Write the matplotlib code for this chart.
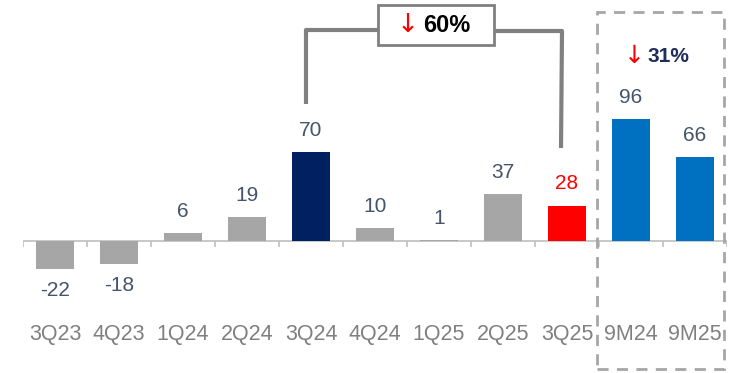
import matplotlib
matplotlib.use("Agg")
import matplotlib.pyplot as plt
from matplotlib.patches import Rectangle

plt.rcParams['font.family'] = ['Liberation Sans', 'DejaVu Sans']

# --- dados ---
categorias = ["3Q23", "4Q23", "1Q24", "2Q24", "3Q24", "4Q24", "1Q25", "2Q25", "3Q25", "9M24", "9M25"]
valores = [-22, -18, 6, 19, 70, 10, 1, 37, 28, 96, 66]
cores = ["#a6a6a6", "#a6a6a6", "#a6a6a6", "#a6a6a6", "#002060", "#a6a6a6",
         "#a6a6a6", "#a6a6a6", "#ff0000", "#0070c0", "#0070c0"]
cor_rotulo = ["#44546a"] * 8 + ["#ff0000", "#44546a", "#44546a"]
queda_trimestre = "60%"
queda_9m = "31%"

W, H = 732, 373
fig = plt.figure(figsize=(W / 100, H / 100), dpi=100)
ax = fig.add_axes([23 / W, 0, 704 / W, 1])
ax.set_xlim(-0.5, len(categorias) - 0.5)
ax.set_ylim(-104, 190)
ax.axis("off")

x = range(len(categorias))
ax.bar(x, valores, width=0.6, color=cores, zorder=2)

# eixo horizontal com marcas entre categorias
ax.axhline(0, color="#bfbfbf", lw=1.2, zorder=1)
limites = [i - 0.5 for i in range(len(categorias) + 1)]
ax.vlines(limites, -4.5, 0, color="#bfbfbf", lw=1.2, zorder=1)

for i, v in enumerate(valores):
    if v >= 0:
        ax.text(i, v + 17, str(v), ha="center", va="center", fontsize=15, color=cor_rotulo[i])
    else:
        ax.text(i, v - 17, str(v), ha="center", va="center", fontsize=15, color=cor_rotulo[i])
    ax.text(i, -74, categorias[i], ha="center", va="center", fontsize=15.5, color="#808080")

# --- colchete 3Q24 -> 3Q25 ---
linha = dict(color="#808080", lw=3, solid_capstyle="butt", transform=fig.transFigure)
fig.add_artist(plt.Line2D([306 / W, 306 / W, 378 / W], [1 - 104 / H, 1 - 30 / H, 1 - 30 / H], **linha))
fig.add_artist(plt.Line2D([494 / W, 562 / W, 561 / W], [1 - 31 / H, 1 - 31 / H, 1 - 148 / H], **linha))
fig.add_artist(Rectangle((378 / W, 1 - 45 / H), 116 / W, 40 / H, transform=fig.transFigure,
                         facecolor="white", edgecolor="#808080", lw=2))
fig.text(408 / W, 1 - 25 / H, "↓", color="#ff0000", fontsize=19, ha="center", va="center",
         family=["DejaVu Sans"])
fig.text(447 / W, 1 - 26 / H, queda_trimestre, color="black", fontsize=17, fontweight="bold",
         ha="center", va="center")

# --- caixa tracejada 9M ---
fig.add_artist(Rectangle((597 / W, 1 - 369 / H), 127 / W, 357 / H, transform=fig.transFigure,
                         facecolor="none", edgecolor="#a6a6a6", lw=2, linestyle=(0, (4, 3))))
fig.text(634 / W, 1 - 56 / H, "↓", color="#ff0000", fontsize=18, ha="center", va="center",
         family=["DejaVu Sans"])
fig.text(668 / W, 1 - 57 / H, queda_9m, color="#1f2d5a", fontsize=15, fontweight="bold",
         ha="center", va="center")

fig.savefig("out.png", dpi=100)
